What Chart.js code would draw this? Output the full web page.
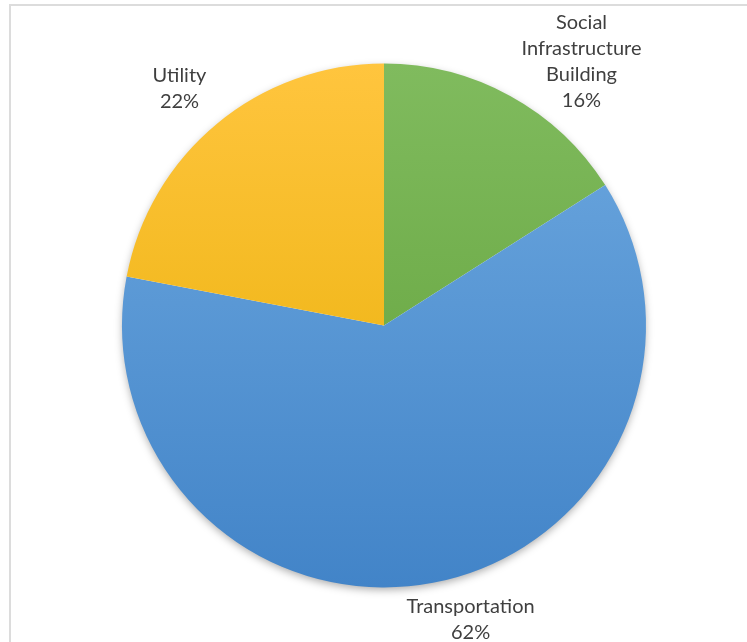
<!DOCTYPE html>
<html>
<head>
<meta charset="utf-8">
<script src="https://cdn.jsdelivr.net/npm/chart.js@4"></script>
<style>
  html, body { margin: 0; padding: 0; background: #fff; }
  #wrap { width: 747px; height: 642px; position: relative; }
</style>
</head>
<body>
<div id="wrap"><canvas id="piechart" width="747" height="642"></canvas></div>
<script>
// data
var categories = ["Social Infrastructure Building", "Transportation", "Utility"];
var labelLines = [["Social", "Infrastructure", "Building"], ["Transportation"], ["Utility"]];
var shares = [16, 62, 22];

// light top / dark bottom, like the office gradient fill
var topColors = ["#80bb5e", "#6ea9e0", "#ffc53e"];
var bottomColors = ["#5f9f37", "#4284c8", "#e6ad00"];
// nudges for each label block (dx, dy) relative to the default spot
var labelNudge = [[52, 1], [30, -3], [-12, -4]];

var frame = {
  id: 'frame',
  beforeDraw: function(chart) {
    var c = chart.ctx;
    c.save();
    c.strokeStyle = "#dcdcdc";
    c.lineWidth = 2;
    c.beginPath();
    c.moveTo(10, 645);
    c.lineTo(10, 5);
    c.lineTo(750, 5);
    c.stroke();
    c.restore();
  },
  beforeDatasetsDraw: function(chart) {
    // soft shadow under the pie
    var arc = chart.getDatasetMeta(0).data[0];
    if (!arc) return;
    var c = chart.ctx;
    c.save();
    c.shadowColor = "rgba(0,0,0,0.35)";
    c.shadowBlur = 8;
    c.shadowOffsetY = 3;
    c.fillStyle = "#fff";
    c.beginPath();
    c.arc(arc.x, arc.y, arc.outerRadius - 1, 0, Math.PI * 2);
    c.fill();
    c.restore();
  }
};

var outsideLabels = {
  id: 'outsideLabels',
  afterDatasetsDraw: function(chart) {
    var c = chart.ctx;
    var meta = chart.getDatasetMeta(0);
    c.save();
    c.font = "20px Lato";
    c.fillStyle = "#3f3f3f";
    c.textAlign = "center";
    c.textBaseline = "middle";
    meta.data.forEach(function(arc, i) {
      var mid = (arc.startAngle + arc.endAngle) / 2;
      var d = arc.outerRadius + 40;
      var lines = labelLines[i].concat([shares[i] + "%"]);
      var lh = 26;
      var cx = arc.x + Math.cos(mid) * d + labelNudge[i][0];
      var cy = arc.y + Math.sin(mid) * d + labelNudge[i][1];
      var y0 = cy - (lines.length - 1) * lh / 2;
      lines.forEach(function(t, k) {
        c.fillText(t, cx, y0 + k * lh);
      });
    });
    c.restore();
  }
};

function grad(ctx) {
  var chart = ctx.chart;
  var a = chart.chartArea;
  if (!a) return topColors[ctx.dataIndex];
  var g = chart.ctx.createLinearGradient(0, a.top, 0, a.bottom);
  g.addColorStop(0, topColors[ctx.dataIndex]);
  g.addColorStop(1, bottomColors[ctx.dataIndex]);
  return g;
}

var pieChart = new Chart(document.getElementById("piechart"), {
  type: 'pie',
  data: {
    labels: categories,
    datasets: [{
      data: shares,
      backgroundColor: grad,
      borderWidth: 0
    }]
  },
  options: {
    responsive: false,
    animation: false,
    layout: { padding: { left: 122, right: 101, top: 63, bottom: 54 } },
    plugins: {
      legend: { display: false },
      tooltip: { enabled: false }
    }
  },
  plugins: [frame, outsideLabels]
});
</script>
</body>
</html>
